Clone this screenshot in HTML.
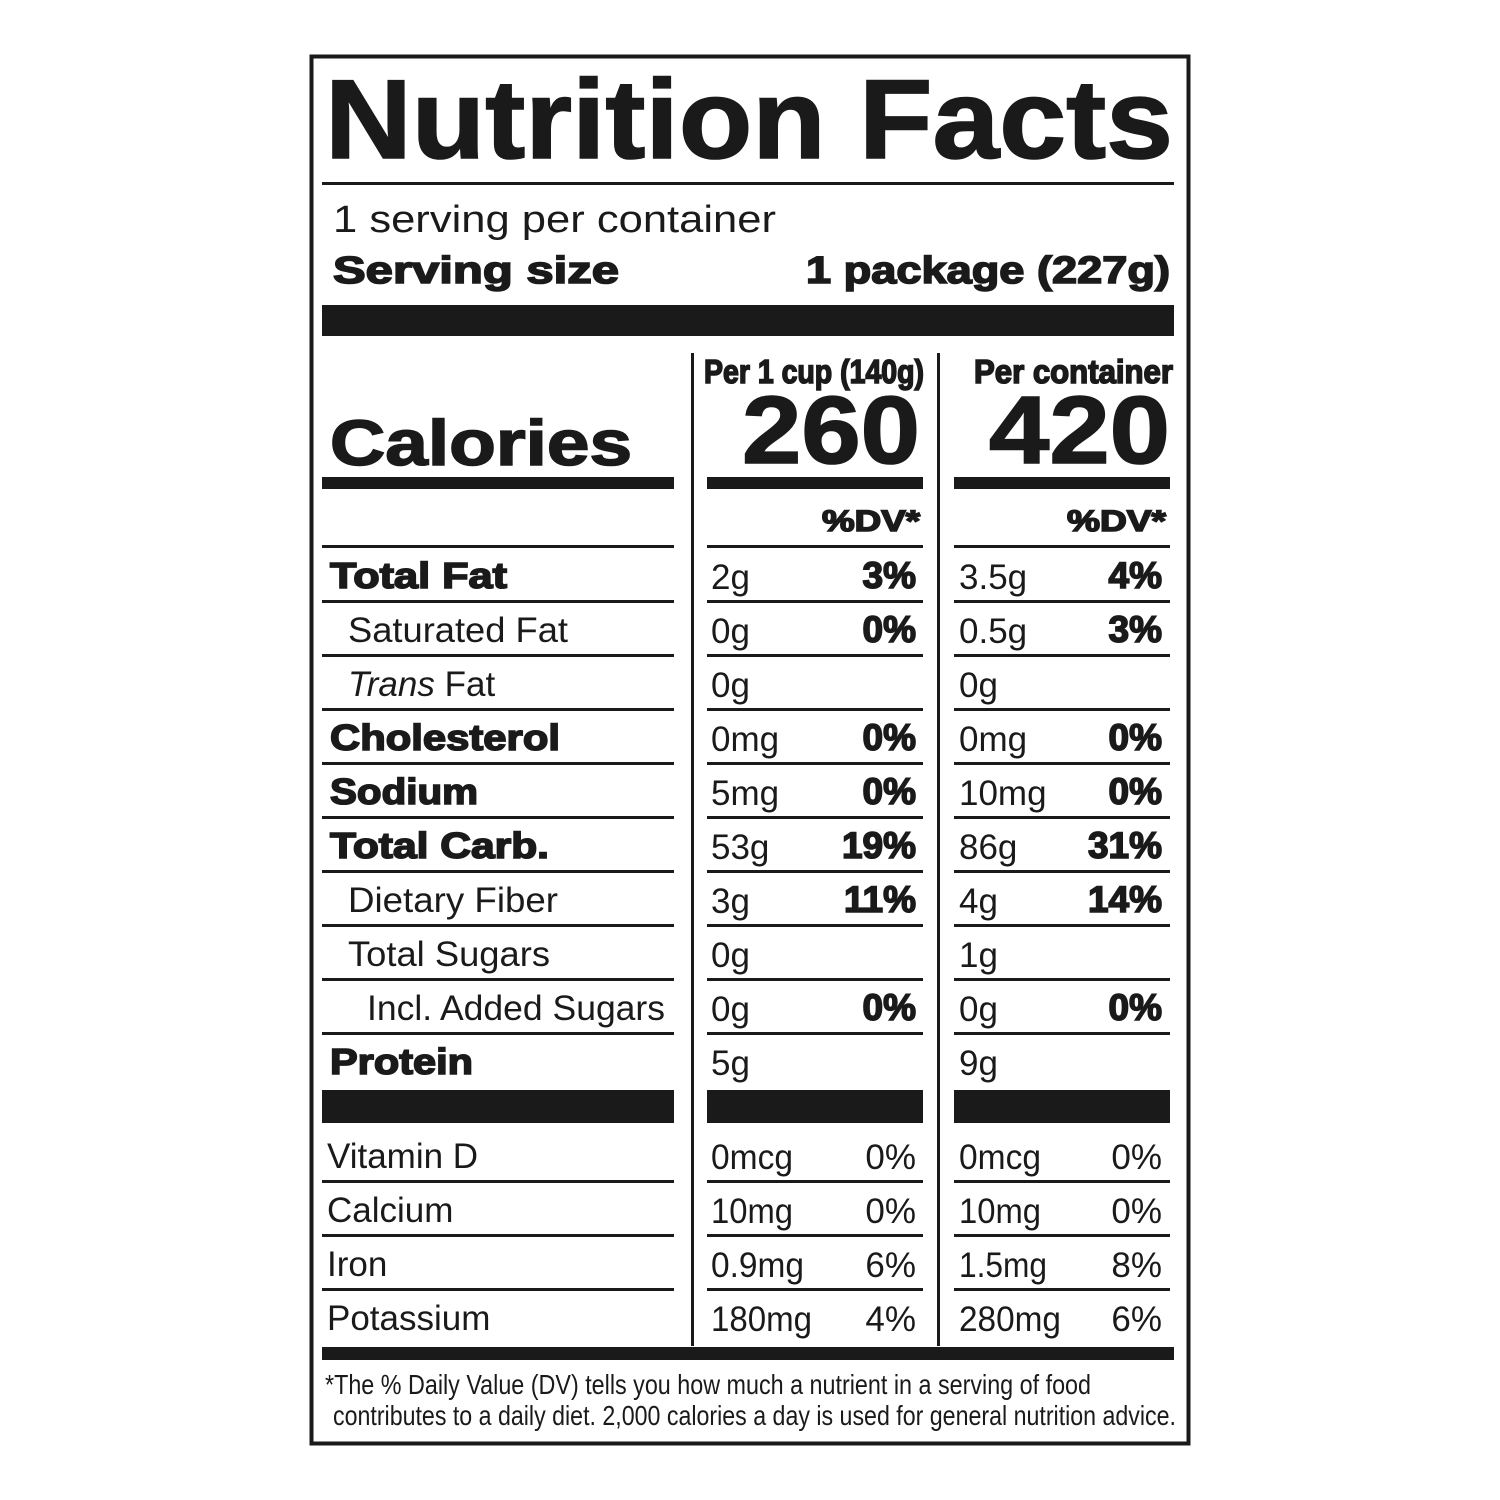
<!DOCTYPE html>
<html><head><meta charset="utf-8"><style>
html,body{margin:0;padding:0;background:#fff;width:1500px;height:1500px;overflow:hidden}
svg{display:block}
text{font-family:"Liberation Sans",Arial,sans-serif;fill:#1a1a1a}
.b{font-weight:bold;stroke:#1a1a1a;stroke-width:1.6}
.r{font-size:35px}
.br{font-size:36px}
</style></head><body>
<svg width="1500" height="1500" viewBox="0 0 1500 1500" xmlns="http://www.w3.org/2000/svg">
<rect x="0" y="0" width="1500" height="1500" fill="#fff"/>
<rect x="311.5" y="56.5" width="877" height="1387" fill="none" stroke="#1a1a1a" stroke-width="4"/>
<text x="325" y="158" class="b" font-size="112" stroke-width="3" textLength="848" lengthAdjust="spacingAndGlyphs">Nutrition Facts</text>
<rect x="322" y="182" width="852" height="3" fill="#1a1a1a"/>
<text x="333" y="232" font-size="38" textLength="443" lengthAdjust="spacingAndGlyphs">1 serving per container</text>
<text x="333" y="283" class="b" font-size="38" textLength="286" lengthAdjust="spacingAndGlyphs">Serving size</text>
<text x="806" y="283" class="b" font-size="38" textLength="364" lengthAdjust="spacingAndGlyphs">1 package (227g)</text>
<rect x="322" y="305" width="852" height="31" fill="#1a1a1a"/>
<rect x="691" y="353" width="3" height="993" fill="#1a1a1a"/>
<rect x="937" y="353" width="3" height="993" fill="#1a1a1a"/>
<text x="704" y="383" class="b" font-size="33" stroke-width="1" textLength="220" lengthAdjust="spacingAndGlyphs">Per 1 cup (140g)</text>
<text x="974" y="383" class="b" font-size="33" stroke-width="1" textLength="199" lengthAdjust="spacingAndGlyphs">Per container</text>
<text x="330" y="465" class="b" font-size="64" stroke-width="2.5" textLength="302" lengthAdjust="spacingAndGlyphs">Calories</text>
<text x="742" y="463" class="b" font-size="96" stroke-width="3" textLength="178" lengthAdjust="spacingAndGlyphs">260</text>
<text x="989" y="463" class="b" font-size="96" stroke-width="3" textLength="181" lengthAdjust="spacingAndGlyphs">420</text>
<rect x="322" y="477" width="352" height="12" fill="#1a1a1a"/>
<rect x="707" y="477" width="216" height="12" fill="#1a1a1a"/>
<rect x="954" y="477" width="216" height="12" fill="#1a1a1a"/>
<text x="822" y="531" class="b" font-size="30" textLength="98" lengthAdjust="spacingAndGlyphs">%DV*</text>
<text x="1067" y="531" class="b" font-size="30" textLength="99" lengthAdjust="spacingAndGlyphs">%DV*</text>
<g fill="#1a1a1a">
<rect x="322" y="545" width="352" height="3"/><rect x="707" y="545" width="216" height="3"/><rect x="954" y="545" width="216" height="3"/>
<rect x="322" y="600" width="352" height="3"/><rect x="707" y="600" width="216" height="3"/><rect x="954" y="600" width="216" height="3"/>
<rect x="322" y="654" width="352" height="3"/><rect x="707" y="654" width="216" height="3"/><rect x="954" y="654" width="216" height="3"/>
<rect x="322" y="708" width="352" height="3"/><rect x="707" y="708" width="216" height="3"/><rect x="954" y="708" width="216" height="3"/>
<rect x="322" y="762" width="352" height="3"/><rect x="707" y="762" width="216" height="3"/><rect x="954" y="762" width="216" height="3"/>
<rect x="322" y="816" width="352" height="3"/><rect x="707" y="816" width="216" height="3"/><rect x="954" y="816" width="216" height="3"/>
<rect x="322" y="870" width="352" height="3"/><rect x="707" y="870" width="216" height="3"/><rect x="954" y="870" width="216" height="3"/>
<rect x="322" y="924" width="352" height="3"/><rect x="707" y="924" width="216" height="3"/><rect x="954" y="924" width="216" height="3"/>
<rect x="322" y="978" width="352" height="3"/><rect x="707" y="978" width="216" height="3"/><rect x="954" y="978" width="216" height="3"/>
<rect x="322" y="1032" width="352" height="3"/><rect x="707" y="1032" width="216" height="3"/><rect x="954" y="1032" width="216" height="3"/>
<rect x="322" y="1090" width="352" height="33"/><rect x="707" y="1090" width="216" height="33"/><rect x="954" y="1090" width="216" height="33"/>
<rect x="322" y="1180" width="352" height="3"/><rect x="707" y="1180" width="216" height="3"/><rect x="954" y="1180" width="216" height="3"/>
<rect x="322" y="1234" width="352" height="3"/><rect x="707" y="1234" width="216" height="3"/><rect x="954" y="1234" width="216" height="3"/>
<rect x="322" y="1288" width="352" height="3"/><rect x="707" y="1288" width="216" height="3"/><rect x="954" y="1288" width="216" height="3"/>
<rect x="322" y="1347" width="852" height="13"/>
</g>
<text x="330" y="588" class="b br" textLength="177" lengthAdjust="spacingAndGlyphs">Total Fat</text>
<text x="348" y="642" class="r" textLength="220" lengthAdjust="spacingAndGlyphs">Saturated Fat</text>
<text x="348" y="696" class="r"><tspan font-style="italic">Trans</tspan> Fat</text>
<text x="330" y="750" class="b br" textLength="230" lengthAdjust="spacingAndGlyphs">Cholesterol</text>
<text x="330" y="804" class="b br" textLength="148" lengthAdjust="spacingAndGlyphs">Sodium</text>
<text x="330" y="858" class="b br" textLength="219" lengthAdjust="spacingAndGlyphs">Total Carb.</text>
<text x="348" y="912" class="r" textLength="210" lengthAdjust="spacingAndGlyphs">Dietary Fiber</text>
<text x="348" y="966" class="r" textLength="202" lengthAdjust="spacingAndGlyphs">Total Sugars</text>
<text x="367" y="1020" class="r" textLength="298" lengthAdjust="spacingAndGlyphs">Incl. Added Sugars</text>
<text x="330" y="1074" class="b br" textLength="143" lengthAdjust="spacingAndGlyphs">Protein</text>
<text x="327" y="1168" class="r">Vitamin D</text>
<text x="327" y="1222" class="r">Calcium</text>
<text x="327" y="1276" class="r">Iron</text>
<text x="327" y="1330" class="r">Potassium</text>
<g>
<text x="711" y="589" class="r">2g</text><text x="711" y="643" class="r">0g</text><text x="711" y="697" class="r">0g</text>
<text x="711" y="751" class="r">0mg</text><text x="711" y="805" class="r">5mg</text><text x="711" y="859" class="r">53g</text>
<text x="711" y="913" class="r">3g</text><text x="711" y="967" class="r">0g</text><text x="711" y="1021" class="r">0g</text>
<text x="711" y="1075" class="r">5g</text>
<text x="711" y="1169" class="r" textLength="82" lengthAdjust="spacingAndGlyphs">0mcg</text><text x="711" y="1223" class="r" textLength="82" lengthAdjust="spacingAndGlyphs">10mg</text><text x="711" y="1277" class="r" textLength="93" lengthAdjust="spacingAndGlyphs">0.9mg</text><text x="711" y="1331" class="r" textLength="101" lengthAdjust="spacingAndGlyphs">180mg</text>
<text x="959" y="589" class="r">3.5g</text><text x="959" y="643" class="r">0.5g</text><text x="959" y="697" class="r">0g</text>
<text x="959" y="751" class="r">0mg</text><text x="959" y="805" class="r">10mg</text><text x="959" y="859" class="r">86g</text>
<text x="959" y="913" class="r">4g</text><text x="959" y="967" class="r">1g</text><text x="959" y="1021" class="r">0g</text>
<text x="959" y="1075" class="r">9g</text>
<text x="959" y="1169" class="r" textLength="82" lengthAdjust="spacingAndGlyphs">0mcg</text><text x="959" y="1223" class="r" textLength="82" lengthAdjust="spacingAndGlyphs">10mg</text><text x="959" y="1277" class="r" textLength="88" lengthAdjust="spacingAndGlyphs">1.5mg</text><text x="959" y="1331" class="r" textLength="102" lengthAdjust="spacingAndGlyphs">280mg</text>
</g>
<g text-anchor="end">
<text x="916" y="588" class="b" font-size="37">3%</text><text x="916" y="642" class="b" font-size="37">0%</text>
<text x="916" y="750" class="b" font-size="37">0%</text><text x="916" y="804" class="b" font-size="37">0%</text><text x="916" y="858" class="b" font-size="37">19%</text>
<text x="916" y="912" class="b" font-size="37">11%</text><text x="916" y="1020" class="b" font-size="37">0%</text>
<text x="916" y="1169" class="r">0%</text><text x="916" y="1223" class="r">0%</text><text x="916" y="1277" class="r">6%</text><text x="916" y="1331" class="r">4%</text>
<text x="1162" y="588" class="b" font-size="37">4%</text><text x="1162" y="642" class="b" font-size="37">3%</text>
<text x="1162" y="750" class="b" font-size="37">0%</text><text x="1162" y="804" class="b" font-size="37">0%</text><text x="1162" y="858" class="b" font-size="37">31%</text>
<text x="1162" y="912" class="b" font-size="37">14%</text><text x="1162" y="1020" class="b" font-size="37">0%</text>
<text x="1162" y="1169" class="r">0%</text><text x="1162" y="1223" class="r">0%</text><text x="1162" y="1277" class="r">8%</text><text x="1162" y="1331" class="r">6%</text>
</g>
<text x="325" y="1394" font-size="28" textLength="766" lengthAdjust="spacingAndGlyphs">*The % Daily Value (DV) tells you how much a nutrient in a serving of food</text>
<text x="333" y="1425" font-size="28" textLength="843" lengthAdjust="spacingAndGlyphs">contributes to a daily diet. 2,000 calories a day is used for general nutrition advice.</text>
</svg>
</body></html>
